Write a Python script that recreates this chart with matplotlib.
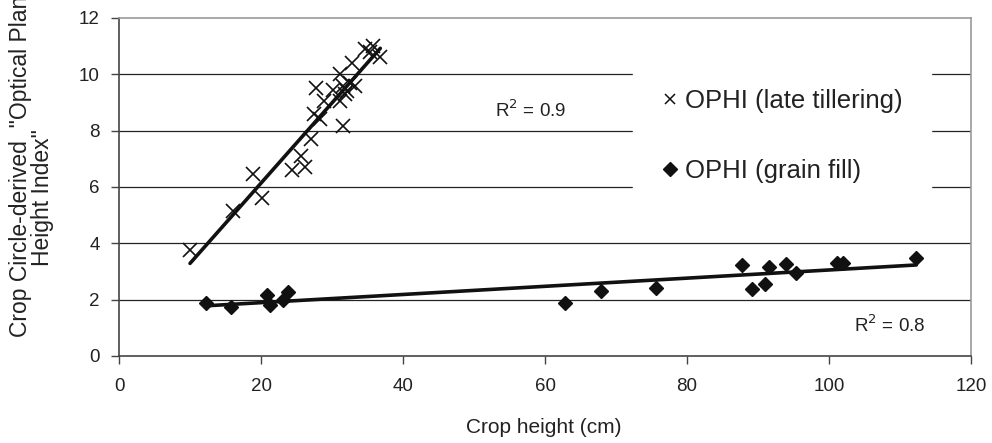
import numpy as np
import matplotlib
matplotlib.use("Agg")
import matplotlib.pyplot as plt
from matplotlib.lines import Line2D

plt.rcParams['font.family'] = ['Liberation Sans', 'DejaVu Sans']

# late tillering readings (crop height cm, OPHI)
late_x = [10.0, 16.1, 18.9, 20.1, 24.3, 25.7, 26.2, 27.0, 27.4, 27.8, 28.3,
          28.9, 30.2, 31.1, 31.1, 31.5, 31.5, 31.8, 32.1, 32.5, 32.8, 33.2,
          34.6, 35.4, 35.8, 36.8]
late_y = [3.76, 5.15, 6.45, 5.6, 6.6, 7.1, 6.7, 7.7, 8.6, 9.5, 8.4,
          9.05, 9.45, 9.05, 10.0, 8.15, 9.6, 9.3, 9.4, 9.7, 10.4, 9.6,
          10.9, 10.8, 11.0, 10.6]

# grain fill readings
grain_x = [12.3, 15.7, 20.9, 21.2, 23.1, 23.8, 62.8, 67.9, 75.7, 87.8, 89.2,
           91.0, 91.5, 94.0, 95.4, 101.1, 102.0, 112.3]
grain_y = [1.89, 1.75, 2.16, 1.81, 1.99, 2.28, 1.89, 2.32, 2.40, 3.23, 2.38,
           2.56, 3.15, 3.27, 2.96, 3.29, 3.29, 3.47]

labels = ["OPHI (late tillering)", "OPHI (grain fill)"]
r2_text = ["R$^2$ = 0.9", "R$^2$ = 0.8"]
ylab = ['Crop Circle-derived  "Optical Plant', 'Height Index"']

fig = plt.figure(figsize=(9.92, 4.43), dpi=100)
ax = fig.add_axes([0.12, 0.1964, 0.8588, 0.763])

# horizontal grid
for yv in range(2, 12, 2):
    ax.axhline(yv, color='#222222', lw=0.9, zorder=0)

ax.plot(late_x, late_y, ls='none', marker='x', ms=10, mew=1.2, color='#111111', zorder=3)
ax.plot(grain_x, grain_y, ls='none', marker='D', ms=7.5, color='#111111', zorder=3)

# linear trend lines
for xs, ys in [(late_x, late_y), (grain_x, grain_y)]:
    k, b = np.polyfit(xs, ys, 1)
    xx = np.array([min(xs), max(xs)])
    ax.plot(xx, k * xx + b, color='#111111', lw=2.6, solid_capstyle='round', zorder=2)

ax.text(58, 8.73, r2_text[0], fontsize=13.5, ha='center', va='center', color='#222222')
ax.text(108.5, 1.1, r2_text[1], fontsize=13.5, ha='center', va='center', color='#222222')

handles = [Line2D([], [], ls='none', marker='x', ms=7, mew=1.1, color='#111111'),
           Line2D([], [], ls='none', marker='D', ms=7, color='#111111')]
leg = ax.legend(handles, labels, loc='upper left', bbox_to_anchor=(0.603, 0.873),
                fontsize=18.5, frameon=True, facecolor='white', edgecolor='white',
                framealpha=1, fancybox=False, handlelength=0.7, handletextpad=0.25,
                labelspacing=1.8, borderpad=1.1, borderaxespad=0)
leg.set_zorder(4)
for t in leg.get_texts():
    t.set_color('#222222')

ax.set_xlim(0, 120)
ax.set_ylim(0, 12)
ax.set_xticks(range(0, 121, 20))
ax.set_yticks(range(0, 13, 2))
ax.tick_params(labelsize=13.5, length=6, width=1, color='#444444', labelcolor='#222222')
ax.tick_params(axis='x', pad=10)
ax.tick_params(axis='y', pad=8)

for s in ['left', 'bottom']:
    ax.spines[s].set_color('#444444')
    ax.spines[s].set_linewidth(1.2)
for s in ['top', 'right']:
    ax.spines[s].set_color('#999999')
    ax.spines[s].set_linewidth(1.2)

ax.set_xlabel("Crop height (cm)", fontsize=15, color='#222222', va='top')
ax.xaxis.set_label_coords(0.4988, -0.183)

# y label as two rotated lines (first one runs off the top edge)
fig.text(21 / 992, 1 - 337 / 443, ylab[0], rotation=90, ha='center', va='bottom',
         fontsize=16.5, color='#222222')
fig.text(43 / 992, 1 - 198 / 443, ylab[1], rotation=90, ha='center', va='center',
         fontsize=16.5, color='#222222')

fig.savefig("out.png", dpi=100)
